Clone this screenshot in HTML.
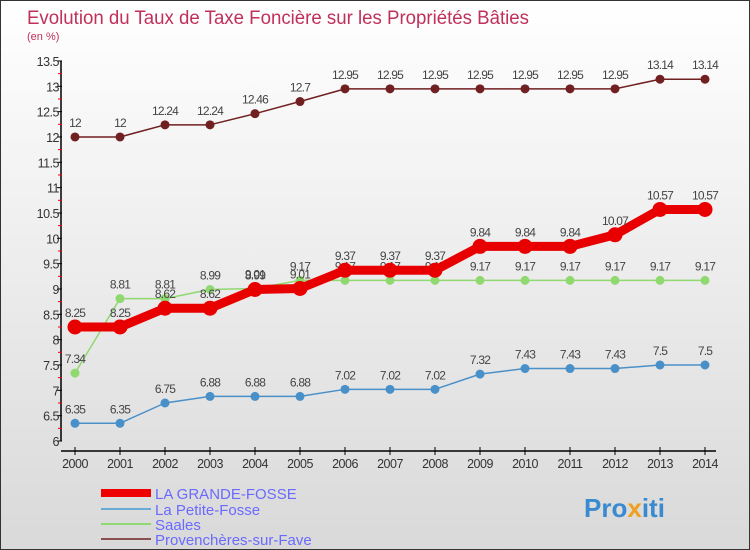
<!DOCTYPE html>
<html><head><meta charset="utf-8"><style>
body{margin:0;}
#wrap{width:748px;height:548px;border:1px solid #333;background:linear-gradient(#ffffff,#d9d9d9);position:relative;overflow:hidden;font-family:"Liberation Sans",sans-serif;}
</style></head><body>
<div id="wrap">
<svg id="svg" width="748" height="548" xmlns="http://www.w3.org/2000/svg">
<text x="26" y="23" font-size="19" fill="#c0305a" textLength="502" lengthAdjust="spacingAndGlyphs">Evolution du Taux de Taxe Foncière sur les Propriétés Bâties</text>
<text x="26" y="39" font-size="11" fill="#c0305a">(en %)</text>
<g id="axes"></g><g id="series"></g>
<g>
<line x1="100" y1="492" x2="150" y2="492" stroke="#e00" stroke-width="8"/>
<text x="154" y="498" font-size="15" fill="#6a6aff">LA GRANDE-FOSSE</text>
<line x1="100" y1="508" x2="150" y2="508" stroke="#6aaad6" stroke-width="2"/>
<text x="154" y="514" font-size="15" fill="#6a6aff">La Petite-Fosse</text>
<line x1="100" y1="523" x2="150" y2="523" stroke="#90d870" stroke-width="2"/>
<text x="154" y="529" font-size="15" fill="#6a6aff">Saales</text>
<line x1="100" y1="538" x2="150" y2="538" stroke="#8a5050" stroke-width="2"/>
<text x="154" y="544" font-size="15" fill="#6a6aff">Provenchères-sur-Fave</text>
</g>
<text x="583" y="516" font-size="26" font-weight="bold" fill="#3a8ad0">Pro<tspan fill="#f0a020">x</tspan>iti</text>
</svg></div>
<script>
const years=[2000,2001,2002,2003,2004,2005,2006,2007,2008,2009,2010,2011,2012,2013,2014];
const grandeFosse=[8.25,8.25,8.62,8.62,8.99,9.01,9.37,9.37,9.37,9.84,9.84,9.84,10.07,10.57,10.57];
const petiteFosse=[6.35,6.35,6.75,6.88,6.88,6.88,7.02,7.02,7.02,7.32,7.43,7.43,7.43,7.5,7.5];
const saales=[7.34,8.81,8.81,8.99,9.01,9.17,9.17,9.17,9.17,9.17,9.17,9.17,9.17,9.17,9.17];
const provencheres=[12,12,12.24,12.24,12.46,12.7,12.95,12.95,12.95,12.95,12.95,12.95,12.95,13.14,13.14];
const yTicks=[6,6.5,7,7.5,8,8.5,9,9.5,10,10.5,11,11.5,12,12.5,13,13.5];
const NS="http://www.w3.org/2000/svg";
const X=i=>74+i*45, Y=v=>440-(v-6)*50.67;
function mk(tag,attrs,parent){const e=document.createElementNS(NS,tag);for(const k in attrs)e.setAttribute(k,attrs[k]);parent.appendChild(e);return e;}
const ax=document.getElementById('axes');
const yAxis=mk('line',{x1:60,y1:Y(13.5),x2:60,y2:Y(6),stroke:'#000','stroke-width':1.5},ax);


const xAxis=mk('line',{x1:60,y1:450,x2:715,y2:450,stroke:'#000','stroke-width':1.5},ax);


yTicks.forEach(v=>{
 mk('line',{x1:56,y1:Y(v),x2:61,y2:Y(v),stroke:'#000'},ax);
 mk('line',{x1:57,y1:Y(v+0.25),x2:61,y2:Y(v+0.25),stroke:v<13.5?'#e00':'none'},ax);
 const t=mk('text',{x:58,y:Y(v)+5,'font-size':12.5,fill:'#333','text-anchor':'end','letter-spacing':'-0.5'},ax);
 t.textContent=String(v);
 
 
});
years.forEach((yr,i)=>{
 mk('line',{x1:X(i),y1:446,x2:X(i),y2:454,stroke:'#000'},ax);
 const t=mk('text',{x:X(i),y:467,'font-size':12.5,fill:'#333','text-anchor':'middle','letter-spacing':'-0.5'},ax);
 t.textContent=String(yr);
 
 
});
const sg=document.getElementById('series');
function draw(vals,color,w,r,name){
 const g=mk('g',{},sg);
 
 
 mk('polyline',{points:vals.map((v,i)=>X(i)+','+Y(v)).join(' '),fill:'none',stroke:color,'stroke-width':w,'stroke-linejoin':'round'},g);
 vals.forEach((v,i)=>{
  const c=mk('circle',{cx:X(i),cy:Y(v),r:r,fill:color},g);
  
  
  const t=mk('text',{x:X(i),y:Y(v)-10,'font-size':12,fill:'#444','text-anchor':'middle','letter-spacing':'-0.8'},g);
  t.textContent=String(v);
  
  
 });
}
draw(petiteFosse,'#4a90c8',1.5,4.5,'series-petite-fosse');
draw(saales,'#90d870',1.5,4.5,'series-saales');
draw(grandeFosse,'#e80000',9,7.5,'series-grande-fosse');
draw(provencheres,'#702020',1.5,4.5,'series-provencheres');
</script>
</body></html>
